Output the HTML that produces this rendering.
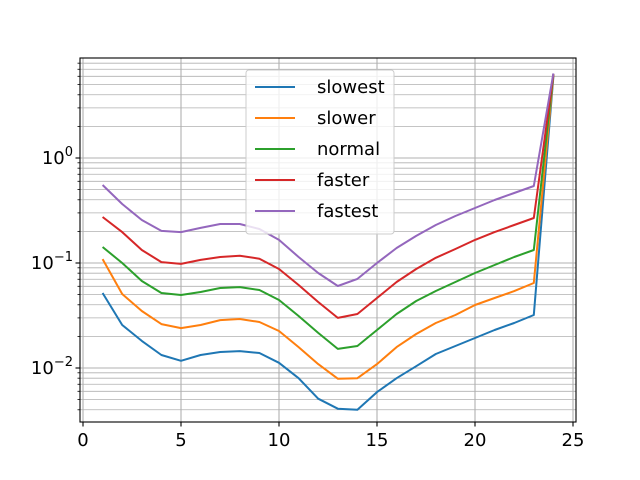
<!DOCTYPE html>
<html><head><meta charset="utf-8"><style>
body{margin:0;background:#fff}
svg{display:block;font-family:"DejaVu Sans","Liberation Sans",sans-serif}
</style></head><body>
<svg id="chart" width="640" height="480"></svg>
<script>
const categories=[1,2,3,4,5,6,7,8,9,10,11,12,13,14,15,16,17,18,19,20,21,22,23,24];
const seriesNames=["slowest","slower","normal","faster","fastest"];
const seriesColors=["#1f77b4","#ff7f0e","#2ca02c","#d62728","#9467bd"];
const slowest=[0.0518,0.0257,0.0181,0.0133,0.0117,0.0133,0.0142,0.0145,0.0139,0.0112,0.0080,0.0051,0.0041,0.0040,0.0059,0.0080,0.0104,0.0136,0.0162,0.0193,0.0230,0.0268,0.0320,6.0];
const slower=[0.109,0.0507,0.0349,0.0262,0.0240,0.0257,0.0286,0.0293,0.0274,0.0225,0.0158,0.0109,0.0079,0.0080,0.0109,0.0158,0.0211,0.0268,0.032,0.0398,0.0464,0.054,0.0645,6.2];
const normal=[0.142,0.1,0.0674,0.0518,0.0496,0.053,0.0578,0.059,0.0553,0.0444,0.0313,0.0216,0.0152,0.0162,0.023,0.0327,0.0435,0.0541,0.0659,0.0803,0.0957,0.114,0.133,6.3];
const faster=[0.274,0.197,0.133,0.102,0.098,0.107,0.114,0.117,0.11,0.0877,0.0617,0.0425,0.030,0.0327,0.0464,0.0659,0.0877,0.112,0.136,0.166,0.197,0.23,0.268,6.3];
const fastest=[0.553,0.365,0.257,0.202,0.197,0.216,0.235,0.235,0.211,0.166,0.114,0.0803,0.0604,0.0705,0.1,0.139,0.181,0.23,0.28,0.334,0.398,0.464,0.541,6.4];
const xTicks=[0,5,10,15,20,25];
const yTickExps=[0,-1,-2];

const svg=document.getElementById('chart');
const NS="http://www.w3.org/2000/svg";
const L=80,R=576,T=58,B=422;
function x(v){return 83+(v-0)*19.6;}
function y(v){return 158-Math.log10(v)*105;}
function mk(tag,attrs,parent){const e=document.createElementNS(NS,tag);for(const k in attrs)e.setAttribute(k,attrs[k]);(parent||svg).appendChild(e);return e;}

const grid=mk('g',{});


for(let e=-3;e<=1;e++){for(let m=1;m<10;m++){const v=m*Math.pow(10,e);const py=y(v);if(py<T||py>B)continue;
 const ln=mk('line',{x1:L,x2:R,y1:py,y2:py,stroke:'#b0b0b0','stroke-width':m===1?1.1:0.8},grid);
 }}
xTicks.forEach(t=>{const px=x(t);if(px<L||px>R)return;const ln=mk('line',{x1:px,x2:px,y1:T,y2:B,stroke:'#b0b0b0','stroke-width':1.1},grid);
 });

const allSeries=[slowest,slower,normal,faster,fastest];
allSeries.forEach((s,i)=>{
 const pts=categories.map((c,j)=>x(c).toFixed(1)+','+y(s[j]).toFixed(1)).join(' ');
 const pl=mk('polyline',{points:pts,fill:'none',stroke:seriesColors[i],'stroke-width':2,'stroke-linejoin':'round'});
 
 
});

const frame=mk('rect',{x:L,y:T,width:R-L,height:B-T,fill:'none',stroke:'#000','stroke-width':1.1});



xTicks.forEach(t=>{const px=x(t);
 mk('line',{x1:px,x2:px,y1:B,y2:B+4.5,stroke:'#000','stroke-width':1.1});
 const tx=mk('text',{x:px,y:B+24,'text-anchor':'middle','font-size':18,fill:'#000'});tx.textContent=t;
 });
for(let e=-3;e<=1;e++){for(let m=1;m<10;m++){const py=y(m*Math.pow(10,e));if(py<T||py>B)continue;
 mk('line',{x1:L-(m===1?4.5:2.5),x2:L,y1:py,y2:py,stroke:'#000','stroke-width':m===1?1.1:0.8});}}
yTickExps.forEach(e=>{const py=y(Math.pow(10,e));
 const tx=mk('text',{x:L-7,y:py+6,'text-anchor':'end','font-size':18,fill:'#000'});
 
 tx.appendChild(document.createTextNode('10'));
 const sp=mk('tspan',{dy:-8,'font-size':13},tx);sp.textContent=e===0?'0':'\u2212'+(-e);});

const lg=mk('g',{});


mk('rect',{x:246,y:70,width:148,height:164,rx:3,fill:'#fff','fill-opacity':0.8,stroke:'#ccc'},lg);
seriesNames.forEach((n,i)=>{const py=87+i*31;
 const ent=mk('g',{},lg);
 
 
 mk('line',{x1:255,x2:295,y1:py,y2:py,stroke:seriesColors[i],'stroke-width':2},ent);
 const tx=mk('text',{x:317,y:py+6,'font-size':18,fill:'#000'},ent);tx.textContent=n;});
</script>
</body></html>
